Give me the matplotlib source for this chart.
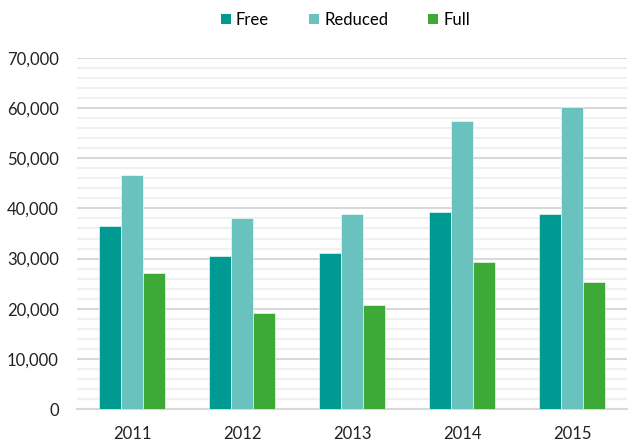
import numpy as np
import matplotlib.pyplot as plt
from matplotlib.patches import Patch
from matplotlib.ticker import MultipleLocator, FuncFormatter

years = ["2011", "2012", "2013", "2014", "2015"]
free = [36500, 30500, 31100, 39200, 38800]
reduced = [46600, 38000, 38900, 57400, 60200]
full = [27200, 19100, 20700, 29300, 25300]

series_names = ["Free", "Reduced", "Full"]
colors = ["#009a93", "#6ac2bf", "#3daa37"]

plt.rcParams['font.family'] = ['Lato', 'DejaVu Sans']

fig = plt.figure(figsize=(6.28, 4.43), dpi=100)
ax = fig.add_axes([77/628, 1 - 409/443, 550/628, (409 - 58)/443])

x = np.arange(len(years))
w = 0.197
for i, (vals, c) in enumerate(zip([free, reduced, full], colors)):
    ax.bar(x + (i - 1) * w, vals, width=w, color=c, edgecolor="white",
           linewidth=0.4, zorder=3)

ax.set_xlim(-0.5, len(years) - 0.5)
ax.set_ylim(0, 70000)
ax.yaxis.set_major_locator(MultipleLocator(10000))
ax.yaxis.set_minor_locator(MultipleLocator(2000))
ax.yaxis.set_major_formatter(FuncFormatter(lambda v, p: f"{int(v):,}"))
ax.grid(axis="y", which="minor", color="#f0f0f0", linewidth=1.5, zorder=0)
ax.grid(axis="y", which="major", color="#d9d9d9", linewidth=1.5, zorder=1)
ax.set_xticks(x)
ax.set_xticklabels(years)
ax.tick_params(axis="both", which="both", length=0, labelsize=12,
               colors="#222222")
ax.tick_params(axis="x", pad=12)
ax.tick_params(axis="y", pad=13)
for s in ["top", "right", "left"]:
    ax.spines[s].set_visible(False)
ax.spines["bottom"].set_color("#d9d9d9")
ax.spines["bottom"].set_linewidth(1.5)

handles = [Patch(facecolor=c, label=n) for n, c in zip(series_names, colors)]
fig.legend(handles=handles, loc="center", bbox_to_anchor=(0.55, 1 - 20/443),
           ncol=3, frameon=False, fontsize=12, handlelength=0.6,
           handleheight=0.6, handletextpad=0.3, columnspacing=2.4)

fig.savefig("out.png", dpi=100)
